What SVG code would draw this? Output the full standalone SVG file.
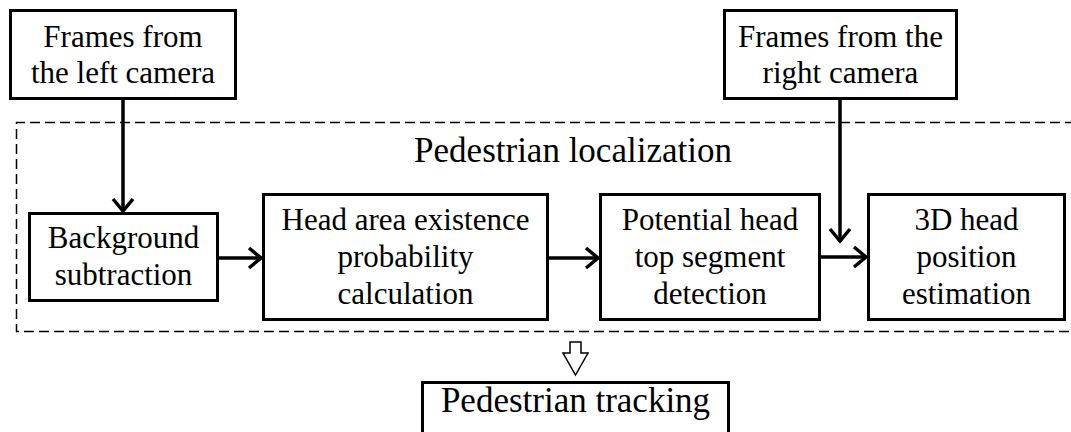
<svg xmlns="http://www.w3.org/2000/svg" width="1071" height="432" viewBox="0 0 1071 432">
<style>
.box{fill:#fff;stroke:#000;stroke-width:3}
.t{font-family:"Liberation Serif","Times New Roman",serif;font-size:31px;fill:#000;text-anchor:middle}
.tl{font-family:"Liberation Serif","Times New Roman",serif;font-size:35px;fill:#000;text-anchor:middle}
.ln{fill:none;stroke:#000;stroke-width:3.5}
.hd{fill:none;stroke:#000;stroke-width:3.5;stroke-linejoin:miter;stroke-linecap:butt}
</style>
<rect width="1071" height="432" fill="#fff"/>
<g id="group-localization">
<path d="M1075,122.5 H16.5 V331.5 H1075" fill="none" stroke="#000" stroke-width="1.5" stroke-dasharray="10,5"/>
<text class="tl" x="573" y="162">Pedestrian localization</text>
</g>
<g id="connectors">
<line class="ln" x1="123" y1="100" x2="123" y2="210"/>
<polyline class="hd" points="113,199 123,211 133,199"/>
<line class="ln" x1="840" y1="100" x2="840" y2="240"/>
<polyline class="hd" points="830,229 840,241 850,229"/>
<line class="ln" x1="219" y1="258" x2="260" y2="258"/>
<polyline class="hd" points="249,248 261,258 249,268"/>
<line class="ln" x1="549" y1="258" x2="597" y2="258"/>
<polyline class="hd" points="586,248 598,258 586,268"/>
<line class="ln" x1="821" y1="257" x2="865" y2="257"/>
<polyline class="hd" points="854,247 866,257 854,267"/>
<polygon points="570,342 581,342 581,353 588,353 575.5,375 563,353 570,353" fill="#fff" stroke="#000" stroke-width="1.5" stroke-linejoin="miter"/>
</g>
<g id="node-left-camera">
<rect class="box" x="10.5" y="10.5" width="225" height="88"/>
<text class="t" x="123" y="47">Frames from</text>
<text class="t" x="123" y="83">the left camera</text>
</g>
<g id="node-right-camera">
<rect class="box" x="724.5" y="10.5" width="232" height="88"/>
<text class="t" x="840.5" y="47">Frames from the</text>
<text class="t" x="840.5" y="83">right camera</text>
</g>
<g id="node-background">
<rect class="box" x="29.5" y="213.5" width="188" height="87"/>
<text class="t" x="123.5" y="248">Background</text>
<text class="t" x="123.5" y="285">subtraction</text>
</g>
<g id="node-head-area">
<rect class="box" x="263.5" y="194.5" width="284" height="125"/>
<text class="t" x="405.5" y="230">Head area existence</text>
<text class="t" x="405.5" y="267">probability</text>
<text class="t" x="405.5" y="304">calculation</text>
</g>
<g id="node-potential">
<rect class="box" x="600.5" y="194.5" width="219" height="125"/>
<text class="t" x="710" y="230">Potential head</text>
<text class="t" x="710" y="267">top segment</text>
<text class="t" x="710" y="304">detection</text>
</g>
<g id="node-3d">
<rect class="box" x="868.5" y="194.5" width="196" height="125"/>
<text class="t" x="966.5" y="230">3D head</text>
<text class="t" x="966.5" y="267">position</text>
<text class="t" x="966.5" y="304">estimation</text>
</g>
<g id="node-tracking">
<rect class="box" x="422.5" y="382.5" width="306" height="60"/>
<text class="tl" x="575.5" y="412">Pedestrian tracking</text>
</g>
</svg>
